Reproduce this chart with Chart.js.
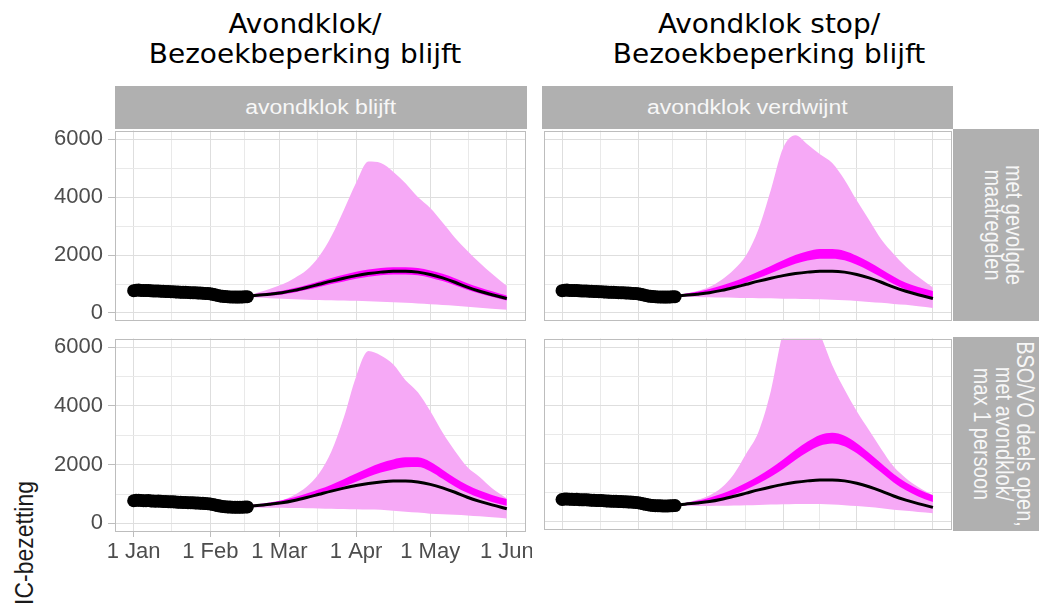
<!DOCTYPE html>
<html>
<head>
<meta charset="utf-8">
<script src="https://cdn.jsdelivr.net/npm/chart.js@4.4.1/dist/chart.umd.min.js"></script>
<style>
html,body{margin:0;padding:0;background:#fff;width:1039px;height:606px;overflow:hidden;position:relative;font-family:"Liberation Sans",Arial,sans-serif;}
.title{position:absolute;width:400px;top:9px;text-align:center;font-family:"DejaVu Sans Condensed","DejaVu Sans",sans-serif;font-size:27px;line-height:30px;color:#000;transform:scaleX(1.15);white-space:nowrap;}
.strip{position:absolute;background:#b0b0b0;color:#f7f7f7;font-size:20px;overflow:hidden;}
.striph{display:flex;align-items:center;justify-content:center;}
.striph span{display:inline-block;transform:scaleX(1.15);white-space:nowrap;}
.lbl{position:absolute;left:50px;top:50%;white-space:nowrap;text-align:center;line-height:19px;transform:translate(-50%,-50%) rotate(90deg) scaleY(1.15);}
.ytitle{position:absolute;left:25px;top:543px;font-size:23px;color:#1a1a1a;white-space:nowrap;transform:translate(-50%,-50%) rotate(-90deg) scaleY(1.12);}
canvas{position:absolute;}
</style>
</head>
<body>
<div class="title" style="left:105px;">Avondklok/<br>Bezoekbeperking blijft</div>
<div class="title" style="left:569px;">Avondklok stop/<br>Bezoekbeperking blijft</div>
<div class="strip striph" style="left:115px;top:86px;width:412px;height:43px;"><span>avondklok blijft</span></div>
<div class="strip striph" style="left:542px;top:86px;width:411px;height:43px;"><span>avondklok verdwijnt</span></div>
<div class="strip" style="left:953px;top:129px;width:86px;height:192px;"><div class="lbl">met gevolgde<br>maatregelen</div></div>
<div class="strip" style="left:953px;top:337px;width:86px;height:194px;"><div class="lbl">BSO/VO deels open,<br>met avondklok/<br>max 1 persoon</div></div>
<div class="ytitle">IC-bezetting</div>

<script>
// ---------- data ----------
const xTickDays   = [0, 31, 59, 90, 120, 151];
const xTickLabels = ['1 Jan', '1 Feb', '1 Mar', '1 Apr', '1 May', '1 Jun'];
const xMinorDays  = [15.5, 45, 74.5, 105, 135.5];
const yTickValues = [0, 2000, 4000, 6000];
const yMinorValues = [1000, 3000, 5000];

const obsDays = [0,1,2,3,4,5,6,7,8,9,10,11,12,13,14,15,16,17,18,19,20,21,22,23,24,25,26,27,28,29,30,31,32,33,34,35,36,37,38,39,40,41,42,43,44,45,46];
const obsValues = [770,785,790,780,775,772,776,765,760,758,762,752,748,742,738,733,736,727,722,716,712,714,706,702,699,696,691,688,682,676,670,660,645,626,606,590,576,566,560,555,552,550,548,550,553,556,562];

const modelDays = [46,50,55,60,65,70,75,80,85,90,95,100,105,110,115,120,125,130,135,140,145,151];
const refLine   = [570,610,650,700,780,880,990,1100,1200,1290,1360,1410,1440,1440,1410,1330,1210,1060,890,750,630,500];

// avondklok blijft / met gevolgde maatregelen
const tlMedLow   = [545,570,600,640,710,800,900,1000,1090,1180,1250,1300,1330,1330,1300,1220,1100,960,800,670,560,430];
const tlMedHigh  = [600,660,710,770,860,970,1090,1210,1320,1420,1500,1550,1580,1580,1550,1470,1350,1200,1030,880,750,600];
const tlBandLow  = [560,530,510,490,475,460,450,440,430,420,405,390,370,350,325,300,275,250,215,180,150,110];
const tlBandHigh = [600,700,830,980,1200,1480,1950,2650,3550,4500,5230,5180,4880,4480,4000,3620,3120,2600,2150,1730,1350,930];

// avondklok verdwijnt / met gevolgde maatregelen
const trMedLow   = [550,580,630,710,810,915,1050,1210,1375,1540,1700,1810,1875,1875,1820,1665,1460,1230,1000,800,665,540];
const trMedHigh  = [610,660,730,830,950,1085,1250,1430,1625,1820,2000,2130,2205,2205,2140,1975,1760,1510,1260,1040,895,760];
const trBandLow  = [560,555,550,540,530,525,515,510,505,495,490,480,470,455,435,410,380,350,310,280,230,170];
const trBandHigh = [600,660,760,900,1150,1500,2000,2900,4250,5700,6140,5820,5480,5180,4600,3880,3210,2540,2040,1600,1250,880];

// avondklok blijft / BSO/VO deels open
const blMedLow   = [550,570,610,670,750,845,960,1100,1255,1420,1590,1730,1840,1910,1920,1780,1520,1260,1040,870,730,600];
const blMedHigh  = [610,650,710,790,890,1015,1160,1320,1505,1700,1890,2060,2180,2250,2250,2100,1830,1550,1310,1120,970,830];
const blBandLow  = [560,545,535,530,520,515,510,500,490,480,470,460,430,400,370,330,310,290,270,240,210,170];
const blBandHigh = [600,640,680,780,970,1250,1700,2450,3600,5000,5870,5720,5420,4880,4470,3830,3100,2470,1920,1580,1200,850];

// avondklok verdwijnt / BSO/VO deels open
const brMedLow   = [550,570,615,690,795,940,1115,1320,1555,1820,2130,2400,2615,2695,2600,2355,2035,1695,1355,1085,875,685];
const brMedHigh  = [610,650,725,830,965,1140,1345,1580,1845,2140,2470,2760,2985,3065,2960,2705,2365,2005,1645,1355,1125,915];
const brBandLow  = [560,555,550,550,555,565,575,585,595,605,615,620,615,600,575,545,510,470,420,380,340,300];
const brBandHigh = [600,650,760,910,1180,1650,2350,3100,4500,6500,7100,7200,6450,5380,4550,3800,3150,2500,1900,1500,1200,920];

// ---------- drawing ----------
const X_MIN = -7.55, X_MAX = 158.55, Y_MIN = -260, Y_MAX = 6300;
const PINK = '#f6a9f6', MAGENTA = '#ff00ff';
const GRID_MAJOR = '#dedede', GRID_MINOR = '#e9e9e9', BORDER = '#bdbdbd', TICKTXT = '#4d4d4d';

const pts = (days, vals) => days.map((d, i) => ({x: d, y: vals[i]}));

const panelBorder = {
  id: 'panelBorder',
  afterDatasetsDraw(chart) {
    const {ctx, chartArea: a} = chart;
    ctx.save();
    ctx.strokeStyle = BORDER;
    ctx.lineWidth = 1;
    ctx.strokeRect(Math.round(a.left) + 0.5, Math.round(a.top) + 0.5,
                   Math.round(a.right - a.left) - 1, Math.round(a.bottom - a.top) - 1);
    ctx.restore();
  }
};

function makePanel(p) {
  const cv = document.createElement('canvas');
  cv.width = p.w; cv.height = p.h;
  cv.style.left = p.left + 'px'; cv.style.top = p.top + 'px';
  document.body.appendChild(cv);
  const band = {borderWidth: 0, borderColor: 'transparent', pointRadius: 0, cubicInterpolationMode: 'monotone'};
  new Chart(cv.getContext('2d'), {
    type: 'line',
    data: {
      datasets: [
        {label: 'waargenomen', data: pts(obsDays, obsValues), showLine: false, pointRadius: 6.5,
         pointBackgroundColor: '#000', pointBorderWidth: 0, order: 0},
        {label: 'referentie', data: pts(modelDays, refLine), borderColor: '#000', borderWidth: 3,
         pointRadius: 0, fill: false, cubicInterpolationMode: 'monotone', order: 1},
        Object.assign({label: 'mediaan hoog', data: pts(modelDays, p.medHigh), backgroundColor: MAGENTA, fill: {target: 3}, order: 2}, band),
        Object.assign({label: 'mediaan laag', data: pts(modelDays, p.medLow), fill: false, order: 3}, band),
        Object.assign({label: 'band hoog', data: pts(modelDays, p.bandHigh), backgroundColor: PINK, fill: {target: 5}, order: 4}, band),
        Object.assign({label: 'band laag', data: pts(modelDays, p.bandLow), fill: false, order: 5}, band)
      ]
    },
    options: {
      responsive: false, animation: false, devicePixelRatio: 1,
      layout: {padding: p.pad},
      plugins: {legend: {display: false}, tooltip: {enabled: false}},
      scales: {
        x: {
          type: 'linear', min: X_MIN, max: X_MAX,
          afterBuildTicks: ax => { ax.ticks = xTickDays.concat(xMinorDays).map(v => ({value: v})); },
          afterFit: ax => { ax.height = p.xH; ax.paddingLeft = 0; ax.paddingRight = 0; },
          border: {display: false},
          grid: {
            color: c => xTickDays.includes(c.tick.value) ? GRID_MAJOR : GRID_MINOR,
            lineWidth: 1,
            drawTicks: p.showX, tickLength: 6,
            tickColor: c => xTickDays.includes(c.tick.value) ? BORDER : 'rgba(0,0,0,0)'
          },
          ticks: {
            display: p.showX, autoSkip: false, maxRotation: 0, minRotation: 0, padding: 2,
            color: TICKTXT, font: {family: '"Liberation Sans", Arial, sans-serif', size: 22},
            callback: v => { const i = xTickDays.indexOf(v); return i >= 0 ? xTickLabels[i] : ''; }
          }
        },
        y: {
          type: 'linear', min: Y_MIN, max: Y_MAX,
          afterBuildTicks: ax => { ax.ticks = yTickValues.concat(yMinorValues).map(v => ({value: v})); },
          afterFit: ax => { ax.width = p.yW; ax.paddingTop = 0; ax.paddingBottom = 0; },
          border: {display: false},
          grid: {
            color: c => yTickValues.includes(c.tick.value) ? GRID_MAJOR : GRID_MINOR,
            lineWidth: 1,
            drawTicks: p.showY, tickLength: 7,
            tickColor: c => yTickValues.includes(c.tick.value) ? BORDER : 'rgba(0,0,0,0)'
          },
          ticks: {
            display: p.showY, autoSkip: false, padding: 5,
            color: TICKTXT, font: {family: '"Liberation Sans", Arial, sans-serif', size: 22},
            callback: v => yTickValues.includes(v) ? String(v) : ''
          }
        }
      }
    },
    plugins: [panelBorder]
  });
}

makePanel({left: 0, top: 124, w: 532, h: 203, pad: {top: 5, right: 5, bottom: 6, left: 0}, yW: 115, xH: 0,
           showX: false, showY: true, medLow: tlMedLow, medHigh: tlMedHigh, bandLow: tlBandLow, bandHigh: tlBandHigh});
makePanel({left: 537, top: 124, w: 421, h: 203, pad: {top: 5, right: 5, bottom: 6, left: 0}, yW: 5, xH: 0,
           showX: false, showY: false, medLow: trMedLow, medHigh: trMedHigh, bandLow: trBandLow, bandHigh: trBandHigh});
makePanel({left: 0, top: 332, w: 532, h: 274, pad: {top: 5, right: 5, bottom: 0, left: 0}, yW: 115, xH: 75,
           showX: true, showY: true, medLow: blMedLow, medHigh: blMedHigh, bandLow: blBandLow, bandHigh: blBandHigh});
makePanel({left: 537, top: 332, w: 421, h: 204, pad: {top: 5, right: 5, bottom: 5, left: 0}, yW: 5, xH: 0,
           showX: false, showY: false, medLow: brMedLow, medHigh: brMedHigh, bandLow: brBandLow, bandHigh: brBandHigh});
</script>
</body>
</html>
